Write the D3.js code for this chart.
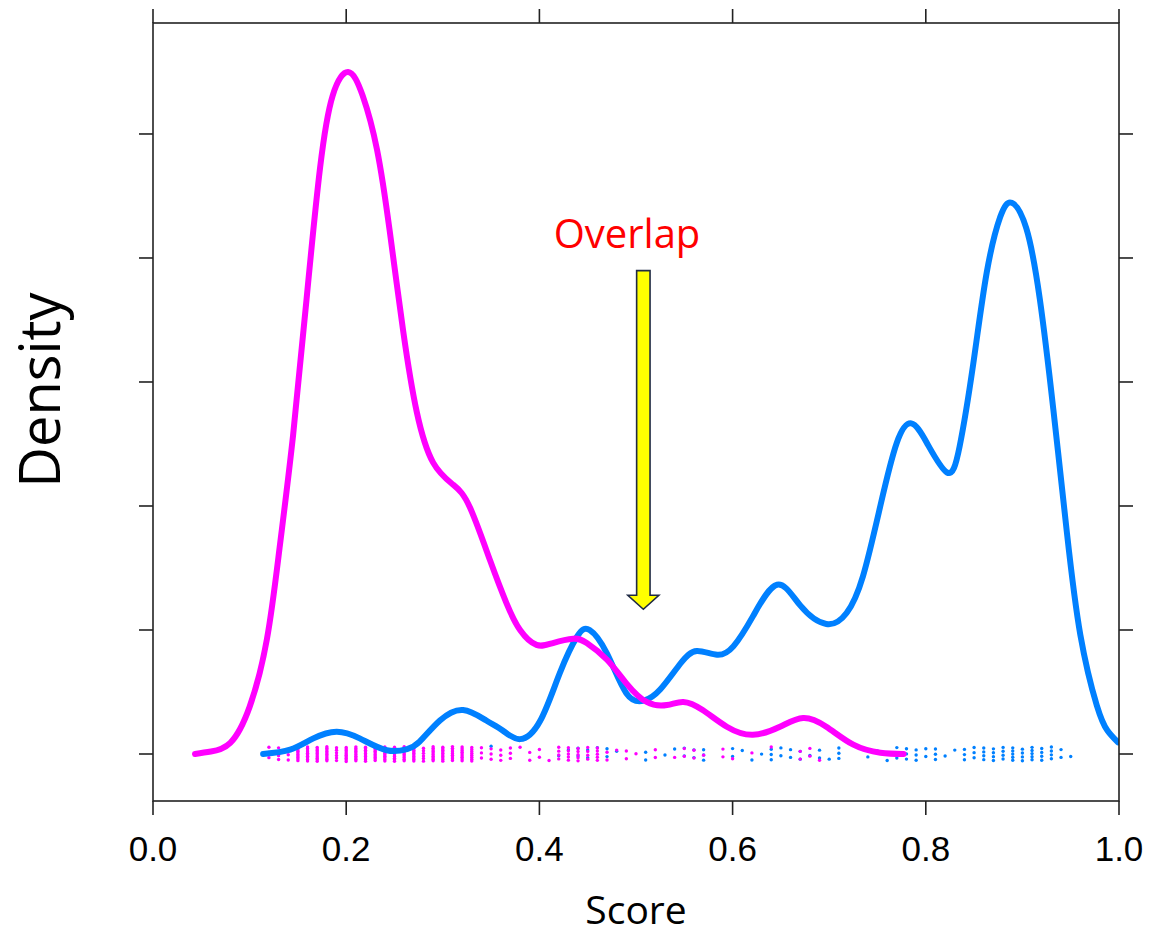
<!DOCTYPE html>
<html>
<head>
<meta charset="utf-8">
<script src="https://cdn.jsdelivr.net/npm/d3@7"></script>
<style>
  html, body { margin: 0; padding: 0; background: #ffffff; }
  svg { display: block; }
</style>
</head>
<body>
<svg id="chart" width="1152" height="937"></svg>
<script>
// Density curves of the score for the two groups (score, density)
const magentaScores = [0.0435, 0.060, 0.080, 0.100, 0.118, 0.131, 0.145, 0.159, 0.173, 0.186, 0.202, 0.217, 0.232, 0.245, 0.259, 0.273, 0.290, 0.311, 0.328, 0.349, 0.366, 0.380, 0.397, 0.414, 0.435, 0.449, 0.470, 0.490, 0.511, 0.532, 0.549, 0.569, 0.594, 0.621, 0.649, 0.673, 0.697, 0.725, 0.753, 0.777];
const magentaDensity = [0, 0.02, 0.09, 0.38, 0.93, 1.66, 2.57, 3.67, 4.73, 5.31, 5.50, 5.31, 4.87, 4.22, 3.41, 2.76, 2.35, 2.17, 1.99, 1.56, 1.215, 1.0, 0.88, 0.895, 0.93, 0.895, 0.76, 0.57, 0.42, 0.395, 0.42, 0.355, 0.22, 0.155, 0.22, 0.29, 0.22, 0.075, 0.01, 0];

const blueScores = [0.114, 0.142, 0.166, 0.190, 0.214, 0.242, 0.263, 0.276, 0.297, 0.321, 0.345, 0.362, 0.380, 0.401, 0.421, 0.439, 0.452, 0.470, 0.490, 0.508, 0.525, 0.546, 0.563, 0.584, 0.601, 0.621, 0.646, 0.670, 0.697, 0.718, 0.735, 0.753, 0.770, 0.785, 0.801, 0.822, 0.835, 0.849, 0.863, 0.877, 0.889, 0.904, 0.918, 0.932, 0.946, 0.960, 0.977, 0.988, 0.999];
const blueDensity = [0, 0.035, 0.126, 0.18, 0.126, 0.03, 0.04, 0.10, 0.27, 0.355, 0.27, 0.19, 0.12, 0.27, 0.65, 0.946, 1.0, 0.81, 0.49, 0.43, 0.52, 0.73, 0.83, 0.80, 0.87, 1.11, 1.365, 1.198, 1.048, 1.137, 1.435, 2.003, 2.51, 2.666, 2.51, 2.27, 2.48, 3.14, 3.88, 4.33, 4.445, 4.24, 3.67, 2.78, 1.79, 0.96, 0.393, 0.19, 0.094];

// Observed scores (rounded to 0.01) and how many cases share each value
const magentaRugScores = [0.12, 0.13, 0.14, 0.15, 0.16, 0.17, 0.18, 0.19, 0.20, 0.21, 0.22, 0.23, 0.24, 0.25, 0.26, 0.27, 0.28, 0.29, 0.30, 0.31, 0.32, 0.33, 0.34, 0.35, 0.36, 0.37, 0.38, 0.39, 0.40, 0.41, 0.42, 0.43, 0.44, 0.45, 0.46, 0.47, 0.48, 0.49, 0.50, 0.52, 0.54, 0.55, 0.56, 0.57, 0.59, 0.60, 0.62, 0.64, 0.67, 0.68, 0.69];
const magentaRugCounts = [3, 4, 3, 10, 10, 10, 10, 6, 10, 10, 10, 10, 10, 10, 10, 10, 6, 10, 10, 9, 9, 8, 3, 3, 3, 3, 1, 2, 2, 1, 4, 5, 5, 4, 5, 2, 1, 2, 1, 2, 1, 2, 2, 1, 2, 1, 1, 1, 2, 2, 1];

const blueRugScores = [0.35, 0.42, 0.43, 0.44, 0.45, 0.46, 0.47, 0.48, 0.51, 0.53, 0.54, 0.55, 0.56, 0.57, 0.60, 0.61, 0.62, 0.63, 0.64, 0.65, 0.66, 0.67, 0.68, 0.69, 0.70, 0.71, 0.73, 0.74, 0.75, 0.76, 0.77, 0.78, 0.79, 0.80, 0.81, 0.82, 0.83, 0.84, 0.85, 0.86, 0.87, 0.88, 0.89, 0.90, 0.91, 0.92, 0.93, 0.94, 0.95];
const blueRugCounts = [1, 1, 1, 2, 2, 1, 2, 1, 2, 1, 1, 2, 2, 3, 2, 1, 1, 1, 3, 2, 2, 2, 1, 2, 1, 3, 1, 1, 1, 1, 3, 3, 3, 2, 3, 1, 1, 3, 3, 4, 4, 4, 5, 4, 5, 4, 4, 2, 1];

// Axis ticks
const xTicks = [0.0, 0.2, 0.4, 0.6, 0.8, 1.0];
const yTicks = [0, 1, 2, 3, 4, 5];

// Annotation
const annotationText = "Overlap";
const arrowScore = 0.5076;
const arrowFrom = 3.898;
const arrowTo = 1.167;

const MAGENTA = "#ff00ff";
const BLUE = "#0080ff";

const svg = d3.select("#chart");
const panel = { left: 153, right: 1119, top: 23, bottom: 801 };

const x = d3.scaleLinear().domain([0, 1]).range([panel.left, panel.right]);
const y = d3.scaleLinear().domain([-0.379, 5.895]).range([panel.bottom, panel.top]);

svg.append("rect").attr("width", 1152).attr("height", 937).attr("fill", "#fff");

svg.append("clipPath").attr("id", "panel-clip")
  .append("rect")
  .attr("x", panel.left).attr("y", panel.top)
  .attr("width", panel.right - panel.left)
  .attr("height", panel.bottom - panel.top);

const plot = svg.append("g").attr("clip-path", "url(#panel-clip)");

// Jittered points around zero: cases sharing a score are spread across the jitter band
const jitterPx = y(0) - y(0.0627);
function rugPoints(scores, counts) {
  const pts = [];
  scores.forEach((s, i) => {
    const n = counts[i];
    for (let k = 0; k < n; k++) {
      let f;
      if (n === 1) f = ((i * 0.618) % 1) * 2 - 1;
      else f = ((k + 0.5) / n) * 2 - 1 + (((i * 0.37) % 1) - 0.5) * (1.2 / n);
      f = Math.max(-1, Math.min(1, f));
      pts.push({ s, f });
    }
  });
  return pts;
}

function drawRug(scores, counts, color) {
  plot.append("g").selectAll("circle")
    .data(rugPoints(scores, counts))
    .join("circle")
    .attr("cx", d => x(d.s))
    .attr("cy", d => y(0) + d.f * jitterPx)
    .attr("r", 1.7)
    .attr("fill", color);
}

drawRug(blueRugScores, blueRugCounts, BLUE);
drawRug(magentaRugScores, magentaRugCounts, MAGENTA);

const line = d3.line()
  .x(d => x(d[0]))
  .y(d => y(d[1]))
  .curve(d3.curveNatural);

function drawCurve(scores, dens, color) {
  plot.append("path")
    .datum(d3.zip(scores, dens))
    .attr("d", line)
    .attr("fill", "none")
    .attr("stroke", color)
    .attr("stroke-width", 6)
    .attr("stroke-linecap", "round")
    .attr("stroke-linejoin", "round");
}

drawCurve(blueScores, blueDensity, BLUE);
drawCurve(magentaScores, magentaDensity, MAGENTA);

// Panel box and ticks on all four sides
const axisColor = "#222";
const tickLen = 14;
const axes = svg.append("g").attr("stroke", axisColor).attr("stroke-width", 1.6).attr("fill", "none");
axes.append("rect")
  .attr("x", panel.left).attr("y", panel.top)
  .attr("width", panel.right - panel.left)
  .attr("height", panel.bottom - panel.top);

axes.selectAll(".xb").data(xTicks).join("line")
  .attr("x1", d => x(d)).attr("x2", d => x(d))
  .attr("y1", panel.bottom).attr("y2", panel.bottom + tickLen);
axes.selectAll(".xt").data(xTicks).join("line")
  .attr("x1", d => x(d)).attr("x2", d => x(d))
  .attr("y1", panel.top).attr("y2", panel.top - tickLen);
axes.selectAll(".yl").data(yTicks).join("line")
  .attr("x1", panel.left).attr("x2", panel.left - tickLen)
  .attr("y1", d => y(d)).attr("y2", d => y(d));
axes.selectAll(".yr").data(yTicks).join("line")
  .attr("x1", panel.right).attr("x2", panel.right + tickLen)
  .attr("y1", d => y(d)).attr("y2", d => y(d));

svg.append("g").selectAll("text").data(xTicks).join("text")
  .attr("x", d => x(d))
  .attr("y", 861)
  .attr("text-anchor", "middle")
  .attr("font-family", "'Liberation Sans', Arial, Helvetica, sans-serif")
  .attr("font-size", 35)
  .attr("fill", "#000")
  .text(d => d3.format(".1f")(d));

// Axis titles
svg.append("text")
  .attr("x", (panel.left + panel.right) / 2)
  .attr("y", 924)
  .attr("text-anchor", "middle")
  .attr("font-family", "'Open Sans', sans-serif")
  .attr("font-size", 39)
  .attr("fill", "#000")
  .text("Score");

svg.append("text")
  .attr("transform", "translate(60,390) rotate(-90)")
  .attr("text-anchor", "middle")
  .attr("font-family", "'Open Sans', sans-serif")
  .attr("font-size", 56)
  .attr("fill", "#000")
  .text("Density");

// Overlap annotation with arrow
svg.append("text")
  .attr("x", 627)
  .attr("y", 248)
  .attr("text-anchor", "middle")
  .attr("font-family", "'Open Sans', sans-serif")
  .attr("font-size", 40)
  .attr("fill", "#ff0000")
  .text(annotationText);

const ax = x(arrowScore), ay0 = y(arrowFrom), ay1 = y(arrowTo);
const shaftHalf = 6.7, headHalf = 15.5, headLen = 14;
const arrowPath = d3.path();
arrowPath.moveTo(ax - shaftHalf, ay0);
arrowPath.lineTo(ax + shaftHalf, ay0);
arrowPath.lineTo(ax + shaftHalf, ay1 - headLen);
arrowPath.lineTo(ax + headHalf, ay1 - headLen);
arrowPath.lineTo(ax, ay1);
arrowPath.lineTo(ax - headHalf, ay1 - headLen);
arrowPath.lineTo(ax - shaftHalf, ay1 - headLen);
arrowPath.closePath();
svg.append("path")
  .attr("d", arrowPath.toString())
  .attr("fill", "#ffff00")
  .attr("stroke", "#1f2a44")
  .attr("stroke-width", 1.6)
  .attr("stroke-linejoin", "miter");
</script>
</body>
</html>
